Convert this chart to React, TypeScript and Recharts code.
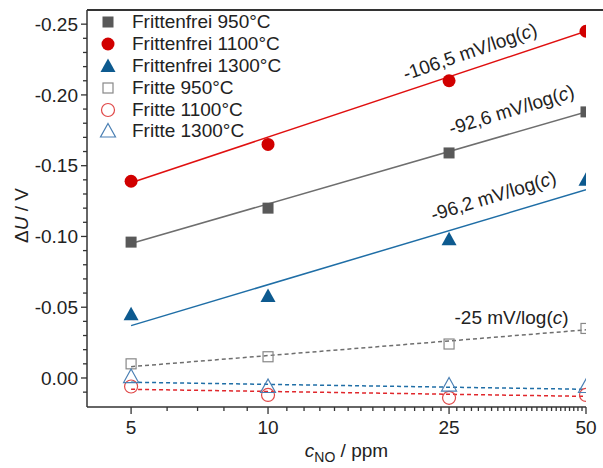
import React from 'react';
import { LineChart, Line, XAxis, YAxis, ReferenceDot } from 'recharts';

const concentrations = [5, 10, 25, 50];
const frittenfrei950 = [-0.096, -0.12, -0.159, -0.188];
const frittenfrei1100 = [-0.139, -0.165, -0.21, -0.245];
const frittenfrei1300 = [-0.045, -0.058, -0.098, -0.14];
const fritte950 = [-0.01, -0.015, -0.024, -0.035];
const fritte1100 = [0.006, 0.012, 0.014, 0.012];
const fritte1300 = [-0.001, 0.006, 0.005, 0.006];

// Fitgeraden (Endpunkte bei 5 und 50 ppm)
const fitRange = [5, 50];
const fitFrittenfrei950 = [-0.095, -0.188];
const fitFrittenfrei1100 = [-0.138, -0.245];
const fitFrittenfrei1300 = [-0.037, -0.133];
const fitFritte950 = [-0.008, -0.034];
const fitFritte1100 = [0.008, 0.013];
const fitFritte1300 = [0.003, 0.008];

// Achsen
const xMajorTicks = [5, 10, 25, 50];
const yMajorTicks = [-0.25, -0.2, -0.15, -0.1, -0.05, 0];

// Steigungs-Beschriftungen
const slopeLabels = [
  { text: '-106,5 mV/log(', x: 27.8, y: -0.2307, angle: -19 },
  { text: '-92,6 mV/log(', x: 34.3, y: -0.1896, angle: -17 },
  { text: '-96,2 mV/log(', x: 31.3, y: -0.1287, angle: -17 },
  { text: '-25 mV/log(', x: 34.3, y: -0.043, angle: 0 },
];

const FONT = '"Liberation Sans", Arial, sans-serif';
const FS = 19;
const TEXT = '#222';
const AXIS = '#333';

const xTicks: number[] = [];
for (let i = 5; i <= 50; i++) xTicks.push(i);
const yTicks: number[] = [];
for (let i = -25; i <= 1; i++) yTicks.push(i / 100);

const toPoints = (xs: number[], ys: number[]) => xs.map((x, i) => ({ x, y: ys[i] }));

type ShapeKind = 'square' | 'circle' | 'triangle';

const Marker = ({ kind, cx, cy, color, open }: { kind: ShapeKind; cx: number; cy: number; color: string; open?: boolean }) => {
  const fill = open ? 'none' : color;
  const stroke = open ? color : 'none';
  const sw = open ? 1.2 : 0;
  if (kind === 'square') {
    const s = open ? 10 : 11;
    return <rect x={cx - s / 2} y={cy - s / 2} width={s} height={s} fill={fill} stroke={stroke} strokeWidth={sw} />;
  }
  if (kind === 'circle') {
    return <circle cx={cx} cy={cy} r={6.5} fill={fill} stroke={stroke} strokeWidth={sw} />;
  }
  return (
    <polygon
      points={`${cx},${cy - 7.5} ${cx + 7.5},${cy + 6} ${cx - 7.5},${cy + 6}`}
      fill={fill}
      stroke={stroke}
      strokeWidth={sw}
    />
  );
};

const series = [
  { name: 'Frittenfrei 950°C', values: frittenfrei950, kind: 'square' as ShapeKind, color: '#595959', open: false },
  { name: 'Frittenfrei 1100°C', values: frittenfrei1100, kind: 'circle' as ShapeKind, color: '#d10000', open: false },
  { name: 'Frittenfrei 1300°C', values: frittenfrei1300, kind: 'triangle' as ShapeKind, color: '#0d5a8f', open: false },
  { name: 'Fritte 950°C', values: fritte950, kind: 'square' as ShapeKind, color: '#888888', open: true },
  { name: 'Fritte 1100°C', values: fritte1100, kind: 'circle' as ShapeKind, color: '#e04848', open: true },
  { name: 'Fritte 1300°C', values: fritte1300, kind: 'triangle' as ShapeKind, color: '#4a7fb3', open: true },
];

const fits = [
  { key: 'f950', values: fitFrittenfrei950, color: '#6e6e6e', dash: undefined },
  { key: 'f1100', values: fitFrittenfrei1100, color: '#e01010', dash: undefined },
  { key: 'f1300', values: fitFrittenfrei1300, color: '#1f6ea6', dash: undefined },
  { key: 'g950', values: fitFritte950, color: '#6e6e6e', dash: '4 3' },
  { key: 'g1100', values: fitFritte1100, color: '#e0262b', dash: '4 3' },
  { key: 'g1300', values: fitFritte1300, color: '#1f6ea6', dash: '4 3' },
];

const YTick = ({ x, y, payload }: any) => {
  const v = payload.value;
  const major = yMajorTicks.some((m) => Math.abs(m - v) < 1e-6);
  const ax = x + 9;
  return (
    <g>
      <line x1={ax} x2={ax - (major ? 6 : 4)} y1={y} y2={y} stroke={AXIS} strokeWidth={1.3} />
      {major && (
        <text x={x} y={y} dy="0.35em" textAnchor="end" fontSize={FS} fill={TEXT} fontFamily={FONT}>
          {v.toFixed(2)}
        </text>
      )}
    </g>
  );
};

const XTick = ({ x, y, payload }: any) => {
  const v = payload.value;
  const major = xMajorTicks.includes(v);
  return (
    <g>
      <line x1={x} x2={x} y1={y} y2={y + (major ? 7 : 4)} stroke={AXIS} strokeWidth={1.3} />
      {major && (
        <text x={x} y={y + 20} dy="0.35em" textAnchor="middle" fontSize={FS} fill={TEXT} fontFamily={FONT}>
          {v}
        </text>
      )}
    </g>
  );
};

const YLabel = ({ viewBox }: any) => {
  const cx = 21;
  const cy = viewBox.y + viewBox.height / 2 + 7;
  return (
    <text x={cx} y={cy} transform={`rotate(-90 ${cx} ${cy})`} textAnchor="middle" dy="0.35em" fontSize={FS} fill={TEXT} fontFamily={FONT}>
      <tspan>Δ</tspan>
      <tspan fontStyle="italic">U</tspan>
      <tspan> / V</tspan>
    </text>
  );
};

const XLabel = ({ viewBox }: any) => {
  const cx = viewBox.x + viewBox.width / 2 + 10;
  const cy = viewBox.y + 50;
  return (
    <text x={cx} y={cy} textAnchor="middle" fontSize={FS} fill={TEXT} fontFamily={FONT}>
      <tspan fontStyle="italic">c</tspan>
      <tspan fontSize={14} dy={5}>NO</tspan>
      <tspan dy={-5}> / ppm</tspan>
    </text>
  );
};

export default function App() {
  return (
    <div style={{ position: 'absolute', left: 0, top: 0, width: 603, height: 468, background: '#fff' }}>
      <LineChart width={603} height={468} margin={{ top: 10, right: 17, left: 0, bottom: 0 }}>
        <XAxis
          type="number"
          dataKey="x"
          scale="log"
          domain={[4, 50]}
          ticks={xTicks}
          interval={0}
          tick={<XTick />}
          tickLine={false}
          tickSize={0}
          tickMargin={0}
          height={61}
          stroke={AXIS}
          strokeWidth={1.5}
          allowDataOverflow
          label={<XLabel />}
        />
        <YAxis
          type="number"
          dataKey="y"
          domain={[-0.26, 0.0205]}
          reversed
          ticks={yTicks}
          interval={0}
          tick={<YTick />}
          tickLine={false}
          tickSize={0}
          tickMargin={9}
          width={87}
          stroke={AXIS}
          strokeWidth={1.5}
          allowDataOverflow
          label={<YLabel />}
        />
        {fits.map((f) => (
          <Line
            key={f.key}
            data={toPoints(fitRange, f.values)}
            dataKey="y"
            stroke={f.color}
            strokeWidth={1.5}
            strokeDasharray={f.dash}
            dot={false}
            activeDot={false}
            isAnimationActive={false}
          />
        ))}
        {series.map((s) => (
          <Line
            key={s.name}
            name={s.name}
            data={toPoints(concentrations, s.values)}
            dataKey="y"
            stroke="none"
            activeDot={false}
            isAnimationActive={false}
            dot={(p: any) => (
              <Marker key={`${s.name}-${p.index}`} kind={s.kind} cx={p.cx} cy={p.cy} color={s.color} open={s.open} />
            )}
          />
        ))}
        {slopeLabels.map((l) => (
          <ReferenceDot
            key={l.text}
            x={l.x}
            y={l.y}
            r={0}
            shape={(p: any) => (
              <text
                x={p.cx}
                y={p.cy}
                dy="0.35em"
                textAnchor="middle"
                transform={`rotate(${l.angle} ${p.cx} ${p.cy})`}
                fontSize={FS}
                fill={TEXT}
                fontFamily={FONT}
              >
                <tspan>{l.text}</tspan>
                <tspan fontStyle="italic">c</tspan>
                <tspan>)</tspan>
              </text>
            )}
          />
        ))}
      </LineChart>

      {/* obere Rahmenlinie */}
      <div style={{ position: 'absolute', left: 87, top: 9, width: 516, height: 1.5, background: AXIS }} />

      {/* Legende */}
      <div style={{ position: 'absolute', left: 99, top: 11, fontFamily: FONT, fontSize: FS, color: TEXT }}>
        {series.map((s) => (
          <div key={s.name} style={{ display: 'flex', alignItems: 'center', height: 21.9 }}>
            <svg width={18} height={18} style={{ marginRight: 15 }}>
              <Marker kind={s.kind} cx={9} cy={9} color={s.color} open={s.open} />
            </svg>
            <span>{s.name}</span>
          </div>
        ))}
      </div>
    </div>
  );
}
